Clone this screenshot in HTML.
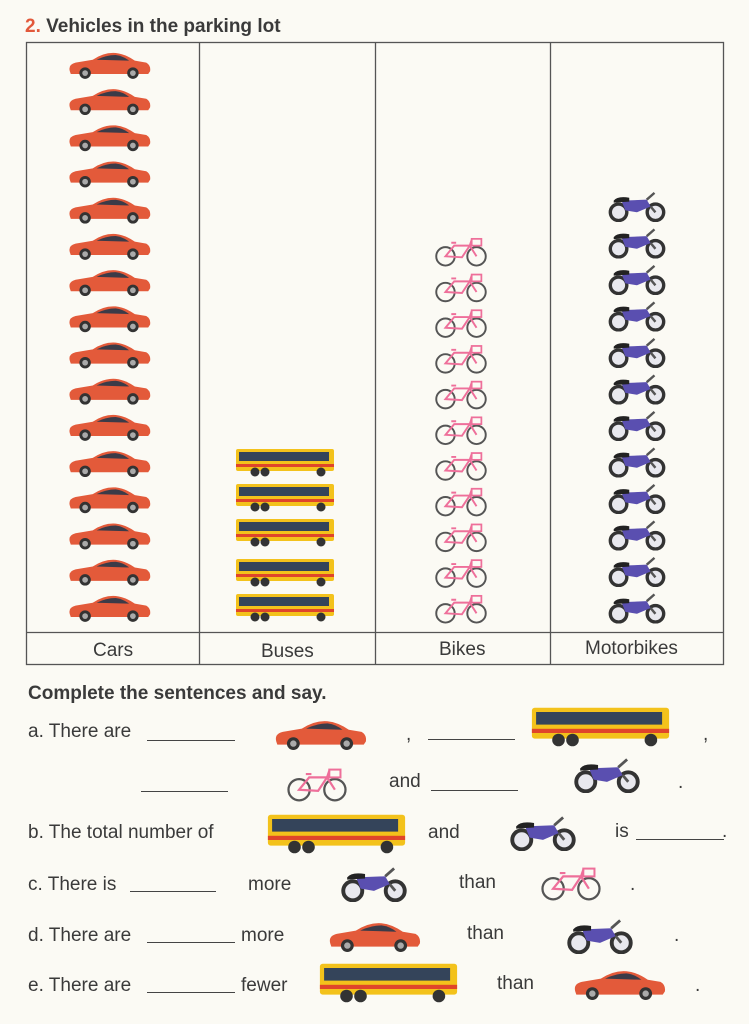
<!DOCTYPE html>
<html><head><meta charset="utf-8"><style>
html,body{margin:0;padding:0;background:#fbfaf4;}
body{width:749px;height:1024px;position:relative;overflow:hidden;font-family:"Liberation Sans",sans-serif;color:#3a3a3a;}
.t{position:absolute;font-size:19px;white-space:nowrap;}
.ln{position:absolute;height:0;border-top:1.5px solid #444;}
svg{position:absolute;left:0;top:0;}
</style></head><body>
<svg width="749" height="1024" viewBox="0 0 749 1024">
<defs>
<symbol id="car" viewBox="0 0 90 30">
<path d="M4 22 Q2 15 10 13 L28 10 Q40 2 52 3 Q62 4 72 11 L84 13 Q89 16 88 22 L86 25 L5 25 Z" fill="#e35a3a"/>
<path d="M32 10 Q42 5 52 5 Q60 6 66 11 Z" fill="#3b3b48"/>
<circle cx="20" cy="24" r="6" fill="#333"/><circle cx="20" cy="24" r="3" fill="#aaa"/>
<circle cx="70" cy="24" r="6" fill="#333"/><circle cx="70" cy="24" r="3" fill="#aaa"/>
</symbol>
<symbol id="bus" viewBox="0 0 100 30">
<rect x="1" y="2" width="98" height="22" rx="2" fill="#f3c21b"/>
<rect x="4" y="5" width="90" height="9" fill="#34445a"/>
<rect x="1" y="17" width="98" height="3" fill="#e0452a"/>
<circle cx="20" cy="25" r="4.5" fill="#333"/><circle cx="30" cy="25" r="4.5" fill="#333"/><circle cx="86" cy="25" r="4.5" fill="#333"/>
</symbol>
<symbol id="bike" viewBox="0 0 54 34">
<circle cx="11" cy="23" r="9.5" fill="none" stroke="#555" stroke-width="2"/>
<circle cx="43" cy="23" r="9.5" fill="none" stroke="#555" stroke-width="2"/>
<path d="M11 23 L20 12 L36 12 L28 24 Z M36 12 L43 23 M38 6 L36 12 M17 9 L22 9" fill="none" stroke="#ee6f9a" stroke-width="2"/>
<rect x="38" y="5" width="10" height="7" fill="none" stroke="#ee6f9a" stroke-width="1.8"/>
</symbol>
<symbol id="moto" viewBox="0 0 60 34">
<circle cx="11" cy="24" r="8.5" fill="#e8e8ee" stroke="#333" stroke-width="3.5"/>
<circle cx="49" cy="24" r="8.5" fill="#e8e8ee" stroke="#333" stroke-width="3.5"/>
<path d="M14 12 L40 11 L44 18 L30 24 L18 22 Z" fill="#5a4fb0"/>
<path d="M6 12 Q10 7 22 9 L22 13 L6 14 Z" fill="#222"/>
<path d="M40 11 L48 4 M44 18 L49 24" stroke="#555" stroke-width="2.5"/>
</symbol>
</defs>
<g stroke="#555" stroke-width="1.3" fill="none">
<rect x="26.5" y="42.5" width="697" height="622"/>
<line x1="26" y1="632.5" x2="724" y2="632.5"/>
<line x1="199.5" y1="42" x2="199.5" y2="665"/>
<line x1="375.5" y1="42" x2="375.5" y2="665"/>
<line x1="550.5" y1="42" x2="550.5" y2="665"/>
</g>
<g id="cars"></g>
</svg>
<script>
(function(){
var s=document.querySelector('svg'),ns='http://www.w3.org/2000/svg';
function u(id,x,y,w,h){var e=document.createElementNS(ns,'use');e.setAttribute('href','#'+id);e.setAttribute('x',x);e.setAttribute('y',y);e.setAttribute('width',w);e.setAttribute('height',h);s.appendChild(e);}
for(var i=0;i<16;i++){u('car',66,50+i*36.2,86,29);}
[462,497,532,572,607].forEach(function(y){u('bus',234,y-15,102,30);});
for(var i=0;i<11;i++){u('bike',434,234+i*35.7,54,33);}
for(var i=0;i<12;i++){u('moto',607,189+i*36.5,60,33);}
u('car',272,718,96,32);u('bus',529,705,143,42);
u('bike',284,764,66,38);u('moto',572,755,70,38);
u('bus',265,812,143,42);u('moto',507,813,72,38);
u('moto',339,864,70,38);u('bike',537,863,68,38);
u('car',326,920,96,32);u('moto',564,916,72,38);
u('bus',317,961,143,42);u('car',571,968,96,32);
})();
</script>
<div class="t" style="left:25px;top:16px;font-size:19px;font-weight:bold;color:#3a3a3a"><span style="color:#e2583a">2.</span> Vehicles in the parking lot</div>
<div class="t" style="left:93px;top:640px;font-size:19px">Cars</div>
<div class="t" style="left:261px;top:641px;font-size:19px">Buses</div>
<div class="t" style="left:439px;top:639px;font-size:19px">Bikes</div>
<div class="t" style="left:585px;top:638px;font-size:19px">Motorbikes</div>
<div class="t" style="left:28px;top:683px;font-weight:bold;font-size:19px">Complete the sentences and say.</div>
<div class="t" style="left:28px;top:721px">a. There are</div><div class="ln" style="left:147px;top:740px;width:88px"></div>
<div class="t" style="left:406px;top:724px">,</div><div class="ln" style="left:428px;top:739px;width:87px"></div>
<div class="t" style="left:703px;top:724px">,</div>
<div class="ln" style="left:141px;top:791px;width:87px"></div>
<div class="t" style="left:389px;top:771px">and</div><div class="ln" style="left:431px;top:790px;width:87px"></div>
<div class="t" style="left:678px;top:772px">.</div>
<div class="t" style="left:28px;top:822px">b. The total number of</div>
<div class="t" style="left:428px;top:822px">and</div>
<div class="t" style="left:615px;top:821px">is</div><div class="ln" style="left:636px;top:839px;width:88px"></div>
<div class="t" style="left:722px;top:821px">.</div>
<div class="t" style="left:28px;top:874px">c. There is</div><div class="ln" style="left:130px;top:891px;width:86px"></div>
<div class="t" style="left:248px;top:874px">more</div>
<div class="t" style="left:459px;top:872px">than</div>
<div class="t" style="left:630px;top:874px">.</div>
<div class="t" style="left:28px;top:925px">d. There are</div><div class="ln" style="left:147px;top:942px;width:88px"></div>
<div class="t" style="left:241px;top:925px">more</div>
<div class="t" style="left:467px;top:923px">than</div>
<div class="t" style="left:674px;top:925px">.</div>
<div class="t" style="left:28px;top:975px">e. There are</div><div class="ln" style="left:147px;top:992px;width:88px"></div>
<div class="t" style="left:241px;top:975px">fewer</div>
<div class="t" style="left:497px;top:973px">than</div>
<div class="t" style="left:695px;top:975px">.</div>
</body></html>
